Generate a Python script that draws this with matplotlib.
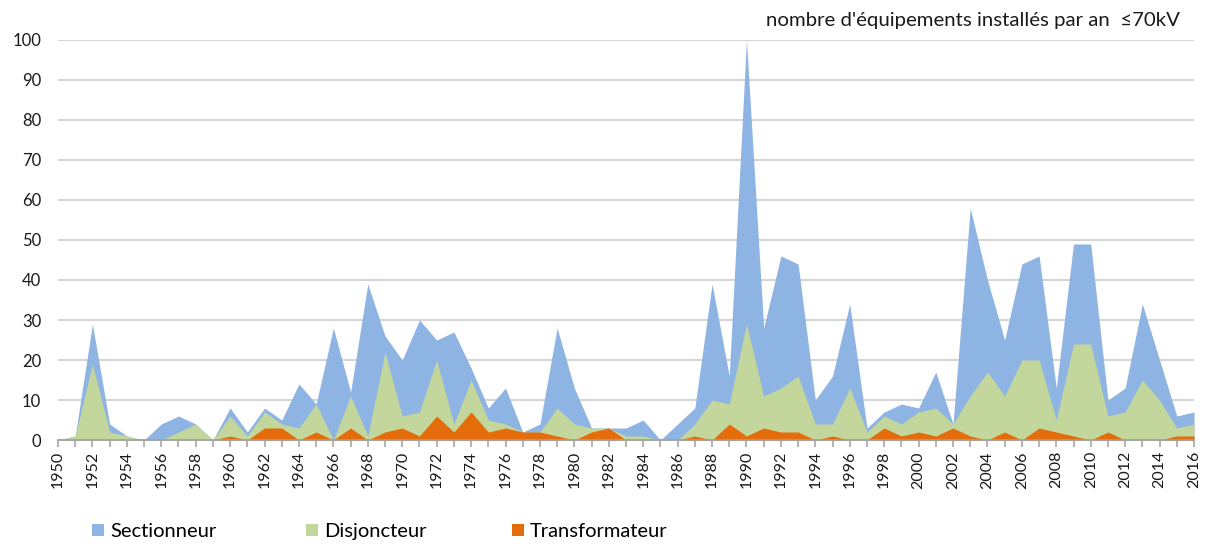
import matplotlib
matplotlib.use("Agg")
import matplotlib.pyplot as plt
from matplotlib.patches import Patch
from matplotlib.ticker import MultipleLocator

plt.rcParams['font.family'] = ['Lato', 'DejaVu Sans']

years = list(range(1950, 2017))

sectionneur = [0, 1, 29, 4, 1, 0, 4, 6, 4, 0,
               8, 2, 8, 5, 14, 9, 28, 12, 39, 26,
               20, 30, 25, 27, 18, 8, 13, 2, 4, 28,
               13, 3, 3, 3, 5, 0, 4, 8, 39, 16,
               100, 28, 46, 44, 10, 16, 34, 3, 7, 9,
               8, 17, 4, 58, 40, 25, 44, 46, 13, 49,
               49, 10, 13, 34, 20, 6, 7]

disjoncteur = [0, 1, 19, 2, 1, 0, 0, 2, 4, 0,
               6, 1, 7, 4, 3, 9, 0, 11, 1, 22,
               6, 7, 20, 4, 15, 5, 4, 2, 2, 8,
               4, 3, 3, 1, 1, 0, 0, 4, 10, 9,
               29, 11, 13, 16, 4, 4, 13, 2, 6, 4,
               7, 8, 4, 11, 17, 11, 20, 20, 5, 24,
               24, 6, 7, 15, 10, 3, 4]

transformateur = [0, 0, 0, 0, 0, 0, 0, 0, 0, 0,
                  1, 0, 3, 3, 0, 2, 0, 3, 0, 2,
                  3, 1, 6, 2, 7, 2, 3, 2, 2, 1,
                  0, 2, 3, 0, 0, 0, 0, 1, 0, 4,
                  1, 3, 2, 2, 0, 1, 0, 0, 3, 1,
                  2, 1, 3, 1, 0, 2, 0, 3, 2, 1,
                  0, 2, 0, 0, 0, 1, 1]

series_names = ["Sectionneur", "Disjoncteur", "Transformateur"]
colors = ["#8EB4E3", "#C3D69B", "#E46C0A"]
title = "nombre d'équipements installés par an  \u226470kV"

fig = plt.figure(figsize=(12.08, 5.47), dpi=100)
ax = fig.add_axes([0.048, 0.1956, 0.9404, 0.7313])

for vals, c in zip([sectionneur, disjoncteur, transformateur], colors):
    ax.fill_between(years, 0, vals, color=c, linewidth=0, zorder=2)

ax.set_xlim(1950, 2016)
ax.set_ylim(0, 100)
ax.yaxis.set_major_locator(MultipleLocator(10))
ax.xaxis.set_major_locator(MultipleLocator(2))
ax.xaxis.set_minor_locator(MultipleLocator(1))
ax.grid(axis='y', color='#D0D0D0', linewidth=1.3, zorder=1)
ax.set_axisbelow(True)
for s in ['top', 'right', 'left']:
    ax.spines[s].set_visible(False)
ax.spines['bottom'].set_color('#A0A0A0')
ax.spines['bottom'].set_linewidth(1.2)
ax.spines['bottom'].set_zorder(3)

ax.tick_params(axis='y', length=0, pad=12, labelsize=12, labelcolor='#1a1a1a')
ax.tick_params(axis='x', which='both', direction='out', length=5, width=1.1,
               color='#A0A0A0', labelsize=11.5, labelcolor='#1a1a1a', pad=3)
for lbl in ax.get_xticklabels():
    lbl.set_rotation(90)

fig.text(0.9768, 0.962, title, ha='right', va='center', fontsize=14.65, color='#1a1a1a')

legend_x = [92 / 1208, 306 / 1208, 512 / 1208]
for name, c, lx in zip(series_names, colors, legend_x):
    leg = fig.legend([Patch(facecolor=c, edgecolor='none')], [name],
                     loc='center left', bbox_to_anchor=(lx, 0.028),
                     frameon=False, fontsize=14.5, handlelength=0.6, handleheight=0.6,
                     handletextpad=0.3, borderpad=0, borderaxespad=0)

fig.savefig("out.png", dpi=100)
